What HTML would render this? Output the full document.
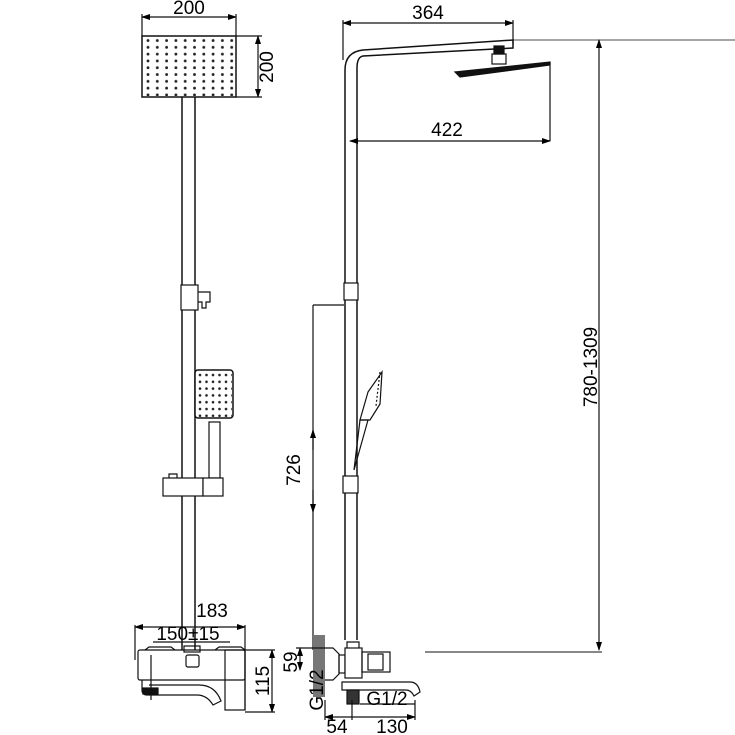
<!DOCTYPE html>
<html><head><style>
body{margin:0;background:#fff}
svg{display:block}
text{font-family:"Liberation Sans",sans-serif;fill:#000}
</style></head><body>
<svg width="735" height="735" viewBox="0 0 735 735" xmlns="http://www.w3.org/2000/svg">
<defs>
<marker id="a" markerWidth="9" markerHeight="6" refX="8" refY="3" orient="auto-start-reverse" markerUnits="userSpaceOnUse"><path d="M0,0L9,3L0,6z" fill="#000"/></marker>
<pattern id="dots" width="9.3" height="6.8" patternUnits="userSpaceOnUse" x="145" y="38"><circle cx="3" cy="2.5" r="1.4" fill="#222"/></pattern>
<pattern id="dots2" width="6.5" height="6.8" patternUnits="userSpaceOnUse" x="197" y="372"><circle cx="3" cy="3" r="1.3" fill="#222"/></pattern>
</defs>
<g stroke="#111" fill="none" stroke-width="1.2">
<line x1="142" y1="17" x2="236" y2="17" marker-start="url(#a)" marker-end="url(#a)"/>
<line x1="142" y1="14" x2="142" y2="36"/><line x1="236" y1="14" x2="236" y2="36"/>
<line x1="258" y1="36" x2="258" y2="97" marker-start="url(#a)" marker-end="url(#a)"/>
<line x1="236" y1="36" x2="262" y2="36"/><line x1="236" y1="97" x2="262" y2="97"/>
<rect x="142" y="36" width="94" height="61" stroke-width="1.5"/>
<rect x="143" y="37" width="92" height="59" fill="url(#dots)" stroke="none"/>
<line x1="182" y1="97" x2="182" y2="650" stroke-width="1.5"/><line x1="195" y1="97" x2="195" y2="650" stroke-width="1.5"/>
<rect x="181" y="285" width="17" height="25" fill="#fff"/>
<path d="M198,292h12v10h-4v6h-4v-6h-4"/>
<rect x="195" y="370" width="38" height="48" rx="3" fill="#fff" stroke-width="1.5"/>
<rect x="196" y="371" width="36" height="46" fill="url(#dots2)" stroke="none"/>
<rect x="209" y="422" width="11" height="56"/>
<rect x="163" y="478" width="40" height="18" fill="#fff"/>
<rect x="203" y="478" width="20" height="18" fill="#fff"/>
<path d="M169,478v-4h8v4"/>
<line x1="135" y1="627" x2="245" y2="627" marker-start="url(#a)" marker-end="url(#a)"/>
<line x1="135" y1="625" x2="135" y2="660"/><line x1="245" y1="625" x2="245" y2="710"/>
<line x1="153" y1="642" x2="230" y2="642"/>
<path d="M145,650l4,-3h22l4,3M215,650l4,-3h22l4,3"/>
<rect x="184" y="646" width="16" height="6"/>
<rect x="138" y="650" width="107" height="30" rx="2"/>
<rect x="186" y="655" width="13" height="12" rx="2"/>
<rect x="225" y="650" width="20" height="60"/>
<path d="M142,680v10q0,5 5,5h50q10,0 16,10l8,-4q-6,-16 -22,-16h-50"/>
<rect x="143" y="688" width="15" height="6" fill="#111"/>
<line x1="151" y1="655" x2="151" y2="700"/>
<line x1="272" y1="650" x2="272" y2="712" marker-start="url(#a)" marker-end="url(#a)"/>
<line x1="245" y1="650" x2="275" y2="650"/><line x1="245" y1="712" x2="275" y2="712"/>
<line x1="343" y1="23" x2="513" y2="23" marker-start="url(#a)" marker-end="url(#a)"/>
<line x1="343" y1="20" x2="343" y2="60"/><line x1="513" y1="20" x2="513" y2="44"/>
<path d="M345,640V70q0,-18 18,-20L513,40v8L363,56q-6,1 -6,12V640" stroke-width="1.5"/>
<line x1="513" y1="40" x2="735" y2="40" stroke-width="0.8"/>
<rect x="494" y="46" width="10" height="8" fill="#111"/>
<rect x="492" y="54" width="14" height="10"/>
<path d="M455,72l95,-10v3l-90,12z" fill="#111"/>
<line x1="550" y1="62" x2="550" y2="141"/>
<line x1="350" y1="141" x2="550" y2="141" marker-start="url(#a)" marker-end="url(#a)"/>
<rect x="344" y="283" width="14" height="17" fill="#fff"/>
<line x1="313" y1="305" x2="344" y2="305"/>
<line x1="313" y1="305" x2="313" y2="650"/>
<line x1="313" y1="450" x2="313" y2="430" marker-end="url(#a)"/>
<line x1="313" y1="490" x2="313" y2="512" marker-end="url(#a)"/>
<path d="M354,470l6,-50h8z"/>
<path d="M360,420l8,-28l14,-20l-2,32l-10,16z"/>
<path d="M380,372l-4,34" stroke-dasharray="2,2"/>
<rect x="343" y="476" width="15" height="17" fill="#fff"/>
<line x1="599" y1="40" x2="599" y2="650" marker-start="url(#a)" marker-end="url(#a)"/>
<line x1="425" y1="652" x2="602" y2="652" stroke-width="0.9"/>
<rect x="313" y="635" width="12" height="62" fill="#777" stroke="none"/>
<path d="M325,648h8l6,6v20l-6,6h-8"/>
<rect x="339" y="655" width="6" height="18"/>
<rect x="345" y="648" width="17" height="30" fill="#fff"/>
<path d="M347,648v-6h12v6"/>
<rect x="362" y="652" width="28" height="20"/>
<rect x="368" y="654" width="15" height="16"/>
<path d="M342,682h68q8,0 10,10l-6,4q-3,-6 -8,-6h-64z"/>
<rect x="347" y="690" width="12" height="14" fill="#333"/>
<line x1="300" y1="648" x2="300" y2="670" marker-start="url(#a)" marker-end="url(#a)"/>
<line x1="296" y1="648" x2="325" y2="648"/>
<line x1="325" y1="717" x2="415" y2="717" marker-start="url(#a)" marker-end="url(#a)"/>
<line x1="352" y1="700" x2="352" y2="720"/><line x1="325" y1="700" x2="325" y2="720"/><line x1="415" y1="700" x2="415" y2="720"/>
<line x1="360" y1="704" x2="415" y2="704"/>
</g>
<g font-size="19">
<text x="189" y="14" text-anchor="middle">200</text>
<text transform="translate(273,67) rotate(-90)" text-anchor="middle">200</text>
<text x="212" y="617" text-anchor="middle">183</text>
<text x="188" y="640" text-anchor="middle">150±15</text>
<text transform="translate(269,681) rotate(-90)" text-anchor="middle">115</text>
<text x="428" y="19" text-anchor="middle">364</text>
<text x="447" y="136" text-anchor="middle">422</text>
<text transform="translate(300,470) rotate(-90)" text-anchor="middle">726</text>
<text transform="translate(597,367) rotate(-90)" text-anchor="middle">780-1309</text>
<text transform="translate(297,662) rotate(-90)" text-anchor="middle">59</text>
<text transform="translate(323,690) rotate(-90)" text-anchor="middle">G1/2</text>
<text x="387" y="705" text-anchor="middle">G1/2</text>
<text x="337" y="733" text-anchor="middle">54</text>
<text x="392" y="733" text-anchor="middle">130</text>
</g>
</svg>
</body></html>
